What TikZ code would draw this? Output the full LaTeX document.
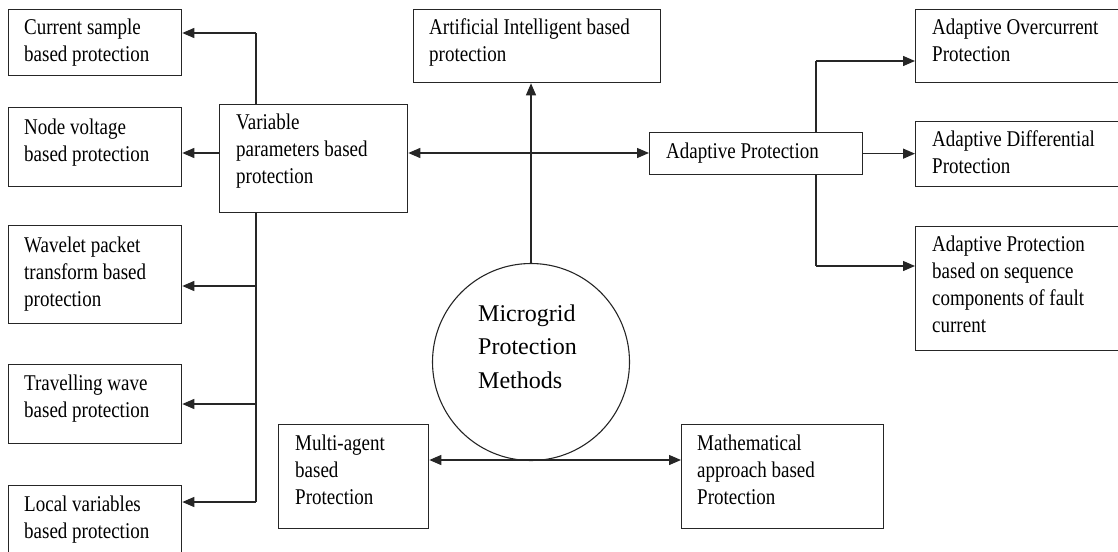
\documentclass[tikz,border=0pt]{standalone}
\usepackage{fontspec}
\setmainfont{Liberation Serif}
\newfontfamily\bxfont[FakeStretch=0.845]{Liberation Serif}
\usetikzlibrary{arrows.meta}
\begin{document}
\begin{tikzpicture}[x=1pt,y=-1pt,
  bx/.style={draw=black!85,line width=1.3pt,inner sep=0pt,anchor=north west},
  tx/.style={anchor=base west,inner sep=0pt,align=left,font=\bxfont\fontsize{22.5}{27}\selectfont},
  cn/.style={draw=black!85,line width=1.3pt},
  ar/.style={cn,-{Triangle[length=12pt,width=10pt]}},
  dar/.style={cn,{Triangle[length=12pt,width=10pt]}-{Triangle[length=12pt,width=10pt]}}]
\useasboundingbox (0,0) rectangle (1118,551);
\clip (0,0) rectangle (1118,551);
% left column boxes (text nodes are placed by the baseline of their last line)
\node[bx,minimum width=173.5pt,minimum height=66pt] (cs) at (7.5,9) {};
\node[tx] (cs-t) at (24,62) {Current sample\\based protection};
\node[bx,minimum width=173.5pt,minimum height=79pt] (nv) at (7.5,107) {};
\node[tx] (nv-t) at (24,161) {Node voltage\\based protection};
\node[bx,minimum width=173.5pt,minimum height=98pt] (wp) at (7.5,225) {};
\node[tx] (wp-t) at (24,306) {Wavelet packet\\transform based\\protection};
\node[bx,minimum width=173.5pt,minimum height=79pt] (tw) at (7.5,364) {};
\node[tx] (tw-t) at (24,417) {Travelling wave\\based protection};
\node[bx,minimum width=173.5pt,minimum height=80pt] (lv) at (7.5,485) {};
\node[tx] (lv-t) at (24,538) {Local variables\\based protection};
% variable parameters
\node[bx,minimum width=188pt,minimum height=108pt] (vp) at (219,104) {};
\node[tx] (vp-t) at (236,183) {Variable\\parameters based\\protection};
% AI
\node[bx,minimum width=247pt,minimum height=73pt] (ai) at (413,9) {};
\node[tx] (ai-t) at (429,62) {Artificial Intelligent based\\protection};
% adaptive
\node[bx,minimum width=213pt,minimum height=42pt] (ap) at (649,132) {};
\node[tx] (ap-t) at (666,158) {Adaptive Protection};
\node[bx,minimum width=220pt,minimum height=73pt] (ao) at (915,9) {};
\node[tx] (ao-t) at (932,62) {Adaptive Overcurrent\\Protection};
\node[bx,minimum width=220pt,minimum height=65pt] (ad) at (915,121) {};
\node[tx] (ad-t) at (932,173) {Adaptive Differential\\Protection};
\node[bx,minimum width=220pt,minimum height=124pt] (as) at (915,226) {};
\node[tx] (as-t) at (932,332) {Adaptive Protection\\based on sequence\\components of fault\\current};
% bottom
\node[bx,minimum width=150pt,minimum height=104pt] (ma) at (278,424) {};
\node[tx] (ma-t) at (295,504) {Multi-agent\\based\\Protection};
\node[bx,minimum width=202pt,minimum height=104pt] (mt) at (681,424) {};
\node[tx] (mt-t) at (697,504) {Mathematical\\approach based\\Protection};
% circle
\node[draw=black!85,line width=1.1pt,circle,minimum size=197pt,inner sep=0pt] (mg) at (531,362) {};
\node[anchor=base west,inner sep=0pt,align=left,font=\fontsize{24}{33.5}\selectfont] (mg-t) at (478,388) {Microgrid\\Protection\\Methods};
% coordinates
\coordinate (j1) at (256,33);
\coordinate (j2) at (256,502);
\coordinate (r153) at (0,153);
\coordinate (r286) at (0,286);
\coordinate (r404) at (0,404);
\coordinate (r460) at (0,460);
\coordinate (k1) at (816,61);
\coordinate (k2) at (816,266);
% left connectors
\draw[cn] (vp.north -| j1) -- (j1);
\draw[ar] (j1) -- (cs.east |- j1);
\draw[ar] (vp.west |- r153) -- (nv.east |- r153);
\draw[cn] (vp.south -| j2) -- (j2);
\draw[ar] (j2 |- r286) -- (wp.east |- r286);
\draw[ar] (j2 |- r404) -- (tw.east |- r404);
\draw[ar] (j2) -- (lv.east |- j2);
% centre connectors
\draw[dar] (vp.east |- r153) -- (ap.west |- r153);
\draw[ar] (mg.north) -- (mg.north |- ai.south);
\draw[dar] (ma.east |- r460) -- (mt.west |- r460);
% right connectors
\draw[cn] (ap.north -| k1) -- (k1);
\draw[ar] (k1) -- (ao.west |- k1);
\draw[ar] (ap.east) -- (ad.west |- ap.east);
\draw[cn] (ap.south -| k2) -- (k2);
\draw[ar] (k2) -- (as.west |- k2);
\end{tikzpicture}
\end{document}
